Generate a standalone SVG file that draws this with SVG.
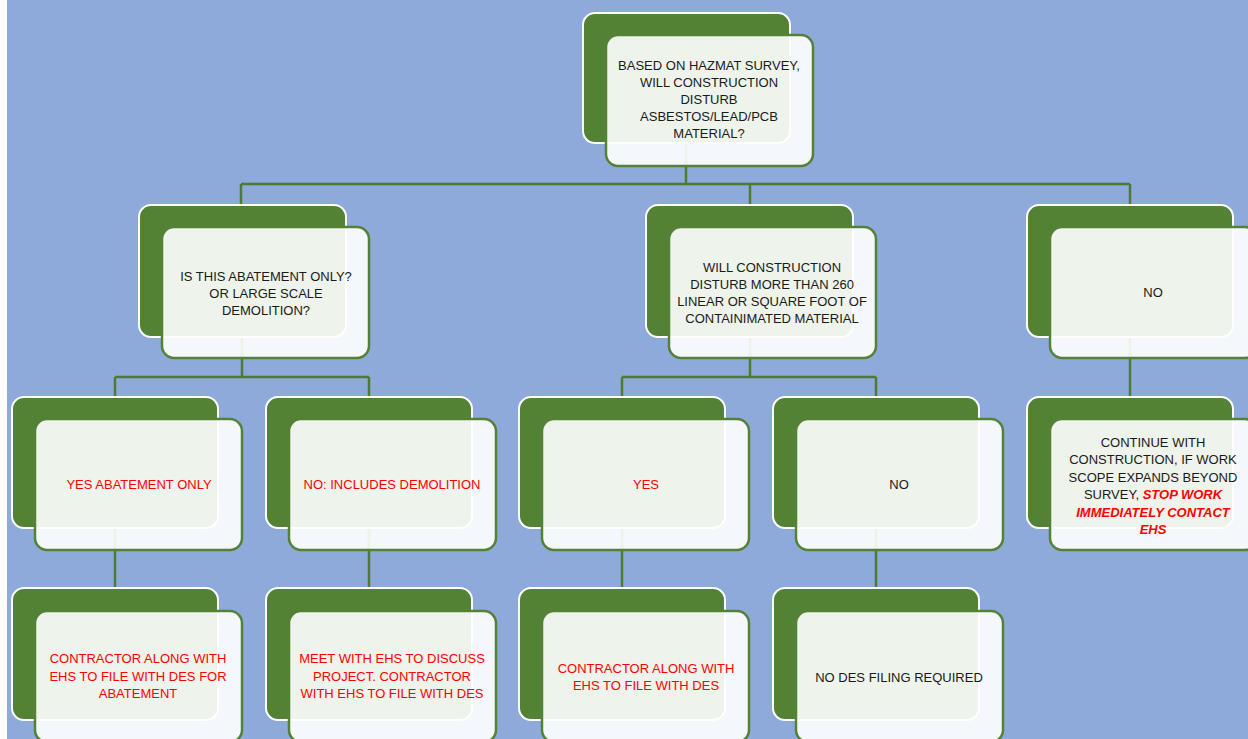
<svg xmlns="http://www.w3.org/2000/svg" width="1248" height="739" viewBox="0 0 1248 739">
<style>
.bk{fill:#548235;stroke:#ffffff;stroke-width:2}
.fr{fill:#ffffff;fill-opacity:0.9;stroke:#548235;stroke-width:2.5}
.cn{fill:none;stroke:#4f7a31;stroke-width:2.5}
text{font-family:"Liberation Sans",Arial,sans-serif;font-size:13px;text-anchor:middle;fill:#1a1a1a}
.r{fill:#ff0000}
.ri{fill:#ff0000;font-weight:bold;font-style:italic}
</style>
<rect x="0" y="0" width="1248" height="739" fill="#ffffff"/>
<rect x="7" y="0" width="1241" height="739" fill="#8eaadb"/>
<g id="connectors">
<path class="cn" d="M686,143V184M241,184H1130M241,184V205M750,184V205M1130,184V205"/>
<path class="cn" d="M242,337V377M115,377H369M115,377V397M369,377V397"/>
<path class="cn" d="M750,337V377M622,377H876M622,377V397M876,377V397"/>
<path class="cn" d="M1130,337V397"/>
<path class="cn" d="M115,528V588M369,528V588M622,528V588M876,528V588"/>
</g>
<g id="n0">
<rect class="bk" x="583" y="13" width="207" height="130" rx="12"/>
<rect class="fr" x="606" y="35" width="207" height="131" rx="12"/>
<text x="709" y="70">BASED ON HAZMAT SURVEY,</text>
<text x="709" y="87">WILL CONSTRUCTION</text>
<text x="709" y="104">DISTURB</text>
<text x="709" y="121">ASBESTOS/LEAD/PCB</text>
<text x="709" y="138">MATERIAL?</text>
</g>
<g id="n1">
<rect class="bk" x="139" y="205" width="207" height="132" rx="12"/>
<rect class="fr" x="162" y="227" width="207" height="131" rx="12"/>
<text x="266" y="281">IS THIS ABATEMENT ONLY?</text>
<text x="266" y="298">OR LARGE SCALE</text>
<text x="266" y="315">DEMOLITION?</text>
</g>
<g id="n2">
<rect class="bk" x="646" y="205" width="207" height="132" rx="12"/>
<rect class="fr" x="669" y="227" width="207" height="131" rx="12"/>
<text x="772" y="272">WILL CONSTRUCTION</text>
<text x="772" y="289">DISTURB MORE THAN 260</text>
<text x="772" y="306">LINEAR OR SQUARE FOOT OF</text>
<text x="772" y="323">CONTAINIMATED MATERIAL</text>
</g>
<g id="n3">
<rect class="bk" x="1027" y="205" width="206" height="132" rx="12"/>
<rect class="fr" x="1050" y="227" width="207" height="131" rx="12"/>
<text x="1153" y="297">NO</text>
</g>
<g id="n4">
<rect class="bk" x="12" y="397" width="206" height="131" rx="12"/>
<rect class="fr" x="35" y="419" width="207" height="131" rx="12"/>
<text class="r" x="139" y="489">YES ABATEMENT ONLY</text>
</g>
<g id="n5">
<rect class="bk" x="266" y="397" width="206" height="131" rx="12"/>
<rect class="fr" x="289" y="419" width="207" height="131" rx="12"/>
<text class="r" x="392" y="489">NO: INCLUDES DEMOLITION</text>
</g>
<g id="n6">
<rect class="bk" x="519" y="397" width="206" height="131" rx="12"/>
<rect class="fr" x="542" y="419" width="207" height="131" rx="12"/>
<text class="r" x="646" y="489">YES</text>
</g>
<g id="n7">
<rect class="bk" x="773" y="397" width="206" height="131" rx="12"/>
<rect class="fr" x="796" y="419" width="207" height="131" rx="12"/>
<text x="899" y="489">NO</text>
</g>
<g id="n8">
<rect class="bk" x="1027" y="397" width="206" height="131" rx="12"/>
<rect class="fr" x="1050" y="419" width="207" height="131" rx="12"/>
<text x="1153" y="447">CONTINUE WITH</text>
<text x="1153" y="464">CONSTRUCTION, IF WORK</text>
<text x="1153" y="482">SCOPE EXPANDS BEYOND</text>
<text x="1153" y="499">SURVEY, <tspan class="ri">STOP WORK</tspan></text>
<text class="ri" x="1153" y="517">IMMEDIATELY CONTACT</text>
<text class="ri" x="1153" y="534">EHS</text>
</g>
<g id="n9">
<rect class="bk" x="12" y="588" width="206" height="132" rx="12"/>
<rect class="fr" x="35" y="611" width="207" height="131" rx="12"/>
<text class="r" x="138" y="663">CONTRACTOR ALONG WITH</text>
<text class="r" x="138" y="681">EHS TO FILE WITH DES FOR</text>
<text class="r" x="138" y="698">ABATEMENT</text>
</g>
<g id="n10">
<rect class="bk" x="266" y="588" width="206" height="132" rx="12"/>
<rect class="fr" x="289" y="611" width="207" height="131" rx="12"/>
<text class="r" x="392" y="663">MEET WITH EHS TO DISCUSS</text>
<text class="r" x="392" y="681">PROJECT. CONTRACTOR</text>
<text class="r" x="392" y="698">WITH EHS TO FILE WITH DES</text>
</g>
<g id="n11">
<rect class="bk" x="519" y="588" width="206" height="132" rx="12"/>
<rect class="fr" x="542" y="611" width="207" height="131" rx="12"/>
<text class="r" x="646" y="673">CONTRACTOR ALONG WITH</text>
<text class="r" x="646" y="690">EHS TO FILE WITH DES</text>
</g>
<g id="n12">
<rect class="bk" x="773" y="588" width="206" height="132" rx="12"/>
<rect class="fr" x="796" y="611" width="207" height="131" rx="12"/>
<text x="899" y="682">NO DES FILING REQUIRED</text>
</g>
</svg>
